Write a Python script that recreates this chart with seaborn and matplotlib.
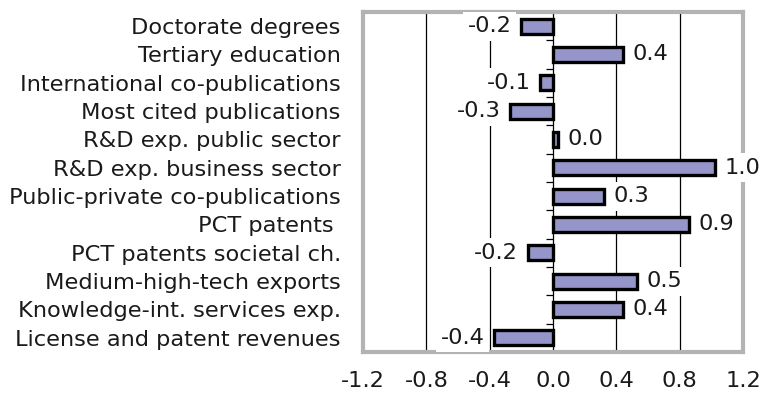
import matplotlib
matplotlib.use("Agg")
import matplotlib.pyplot as plt
import seaborn as sns
import pandas as pd
import numpy as np

categories = [
    "Doctorate degrees",
    "Tertiary education",
    "International co-publications",
    "Most cited publications",
    "R&D exp. public sector",
    "R&D exp. business sector",
    "Public-private co-publications",
    "PCT patents ",
    "PCT patents societal ch.",
    "Medium-high-tech exports",
    "Knowledge-int. services exp.",
    "License and patent revenues",
]
values = [-0.20, 0.44, -0.08, -0.27, 0.03, 1.02, 0.32, 0.86, -0.16, 0.53, 0.44, -0.37]
x_ticks = [-1.2, -0.8, -0.4, 0.0, 0.4, 0.8, 1.2]

sns.set_style("white")
plt.rcParams["font.family"] = ["DejaVu Sans"]
plt.rcParams["axes.unicode_minus"] = False

FS = 16.2
TEXT = "#1a1a1a"
FRAME = "#b3b3b3"
BAR = "#9595c9"

df = pd.DataFrame({"indicator": categories, "change": values})

fig = plt.figure(figsize=(7.62, 4.03), dpi=100)
ax = fig.add_axes([0.4764, 0.1266, 0.4987, 0.8437])

sns.barplot(data=df, x="change", y="indicator", orient="h", color=BAR,
            edgecolor="black", linewidth=2.4, width=0.52, saturation=1,
            ax=ax, zorder=2)

ax.set_xlim(-1.2, 1.2)
ax.set_ylim(len(categories) - 0.5, -0.5)
ax.set_xticks(x_ticks)
ax.set_xticklabels([f"{t:.1f}" for t in x_ticks])
ax.set_xlabel("")
ax.set_ylabel("")

# vertical gridlines
ax.grid(False)
for t in x_ticks[1:-1]:
    ax.axvline(t, color="black", lw=0.9, zorder=1)

# category axis at zero with tick marks between categories
bounds = np.arange(len(categories) + 1) - 0.5
ax.hlines(bounds, -0.045, 0, color="black", lw=0.9, zorder=1.5)

for s in ax.spines.values():
    s.set_color(FRAME)
    s.set_linewidth(3.0)
    s.set_zorder(2.5)

ax.tick_params(axis="x", length=0, pad=14, labelsize=FS, labelcolor=TEXT)
ax.tick_params(axis="y", length=0, pad=16, labelsize=FS, labelcolor=TEXT)

# value labels
for i, v in enumerate(values):
    off = 7 if v >= 0 else -7
    ax.annotate(f"{v:.1f}", xy=(v, i), xytext=(off, 0), textcoords="offset points",
                ha="left" if v >= 0 else "right", va="center", fontsize=FS,
                color=TEXT, clip_on=False, zorder=4,
                bbox=dict(boxstyle="square,pad=0.2", fc="white", ec="none"))

fig.savefig("out.png", dpi=100, facecolor="white")
